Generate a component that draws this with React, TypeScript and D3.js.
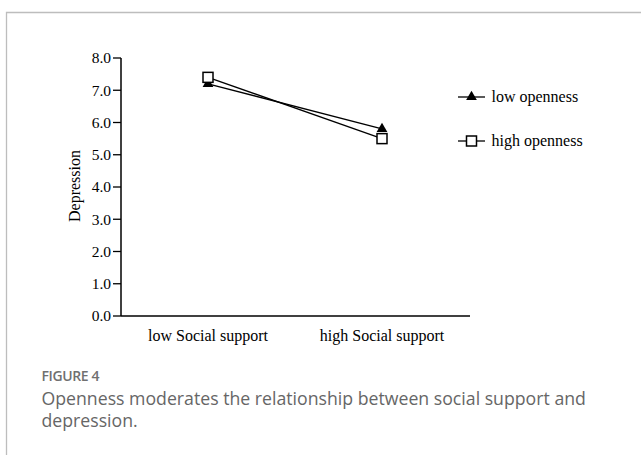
import React from "react";
import * as d3 from "d3";

const categories = ["low Social support", "high Social support"];
const seriesNames = ["low openness", "high openness"];
const lowOpenness = [7.2, 5.8];
const highOpenness = [7.4, 5.5];
const yTicks = [0, 1, 2, 3, 4, 5, 6, 7, 8];

export default function App() {
  const W = 641, H = 455;
  const x0 = 121, x1 = 470, yTop = 58, yBot = 316;
  const y = d3.scaleLinear().domain([0, 8]).range([yBot, yTop]);
  const x = d3.scalePoint<string>().domain(categories).range([208, 382]);
  const line = d3.line<number>().x((_, i) => x(categories[i])!).y((d) => y(d));
  const tri = d3.symbol().type(d3.symbolTriangle).size(50)()!;
  const serif = "'Liberation Serif', 'Times New Roman', serif";
  const sans = "'Open Sans', 'Noto Sans', sans-serif";
  const series = [
    { name: seriesNames[0], data: lowOpenness, marker: "tri" },
    { name: seriesNames[1], data: highOpenness, marker: "sq" },
  ];
  const drawMarker = (m: string, cx: number, cy: number, key: string) =>
    m === "tri" ? (
      <path key={key} d={tri} transform={`translate(${cx},${cy})`} fill="#000" />
    ) : (
      <rect key={key} x={cx - 5} y={cy - 5} width={10} height={10} fill="#fff" stroke="#000" strokeWidth={1.5} />
    );
  return (
    <svg width={W} height={H} style={{ position: "absolute", left: 0, top: 0, background: "#fff" }}>
      <rect x={0} y={0} width={W} height={H} fill="#fff" />
      <path d={`M6.5,${H} V12.5 H${W}`} fill="none" stroke="#bdbdbd" strokeWidth={1.3} />
      {/* axes */}
      <line x1={x0} x2={x0} y1={yTop} y2={yBot} stroke="#000" strokeWidth={1.5} />
      <line x1={x0} x2={x1} y1={yBot} y2={yBot} stroke="#000" strokeWidth={1.5} />
      {yTicks.map((t) => (
        <g key={t}>
          <line x1={x0 - 8} x2={x0} y1={y(t)} y2={y(t)} stroke="#000" strokeWidth={1.3} />
          <text x={x0 - 10} y={y(t)} dy="0.35em" textAnchor="end" fontFamily={serif} fontSize={15.5} fill="#000">
            {t.toFixed(1)}
          </text>
        </g>
      ))}
      {categories.map((c) => (
        <text key={c} x={x(c)} y={341} textAnchor="middle" fontFamily={serif} fontSize={16} fill="#000">
          {c}
        </text>
      ))}
      <text transform={`translate(79.5,186) rotate(-90)`} textAnchor="middle" fontFamily={serif} fontSize={16} fill="#000">
        Depression
      </text>
      {series.map((s) => (
        <g key={s.name}>
          <path d={line(s.data)!} fill="none" stroke="#000" strokeWidth={1.3} />
          {s.data.map((v, i) => drawMarker(s.marker, x(categories[i])!, y(v), s.name + i))}
        </g>
      ))}
      {series.map((s, i) => {
        const ly = 97 + i * 44;
        return (
          <g key={"lg" + s.name}>
            <line x1={458} x2={485} y1={ly} y2={ly} stroke="#000" strokeWidth={1.3} />
            {drawMarker(s.marker, 471.5, ly, "lgm" + i)}
            <text x={491.5} y={ly} dy="0.33em" fontFamily={serif} fontSize={16} fill="#000">
              {s.name}
            </text>
          </g>
        );
      })}
      <text x={41.5} y={381} fontFamily={sans} fontSize={14} fontWeight={600} letterSpacing={-0.4} fill="#707070">FIGURE 4</text>
      <text x={41.5} y={405} fontFamily={sans} fontSize={17.7} fill="#666">
        Openness moderates the relationship between social support and
      </text>
      <text x={41.5} y={427} fontFamily={sans} fontSize={17.7} fill="#666">depression.</text>
    </svg>
  );
}
